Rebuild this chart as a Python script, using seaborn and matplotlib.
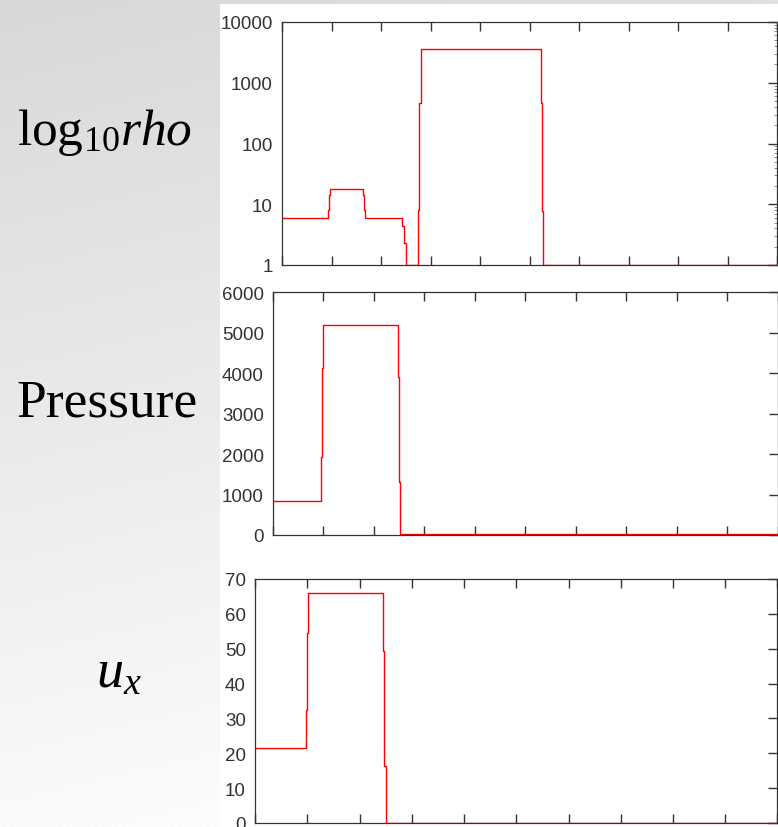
import matplotlib
matplotlib.use("Agg")
import matplotlib.pyplot as plt
import seaborn as sns
import numpy as np

# Step profiles: each level holds from its x up to the next x (steps-post)
rho_x = [0.0, 0.93, 0.95, 0.97, 1.64, 1.66, 1.68, 2.43, 2.46, 2.50, 2.75, 2.77, 2.80, 5.22, 5.24, 5.26, 10.0]
rho_y = [6.0, 8.0, 14.0, 18.0, 14.0, 8.0, 6.0, 4.4, 2.3, 1.0, 8.0, 470.0, 3600.0, 460.0, 7.6, 1.0, 1.0]

p_x = [0.0, 0.96, 0.98, 1.00, 2.48, 2.50, 2.52, 10.0]
p_y = [850.0, 1920.0, 4120.0, 5200.0, 3900.0, 1300.0, 25.0, 25.0]

u_x = [0.0, 0.97, 0.99, 1.01, 2.45, 2.47, 2.50, 10.0]
u_y = [21.5, 32.5, 54.5, 66.0, 49.4, 16.4, 0.0, 0.0]

row_labels = [r"$\mathrm{log}_{10}\mathit{rho}$", "Pressure", r"$\mathit{u}_{\mathit{x}}$"]

sns.set_theme(style="ticks")
plt.rcParams['font.family'] = ['Liberation Sans', 'DejaVu Sans']
plt.rcParams['mathtext.fontset'] = 'custom'
plt.rcParams['mathtext.rm'] = 'Liberation Serif'
plt.rcParams['mathtext.it'] = 'Liberation Serif:italic'

W, H = 778, 828
fig = plt.figure(figsize=(W / 100, H / 100), dpi=100)

# slide-like grey gradient background with a white panel on the right
yy, xx = np.mgrid[0:H, 0:W]
bg = 0.845 + 0.135 * (yy / H) + 0.03 * (xx / W)
bg = bg + 0.01 * (np.sin((xx + yy) * 2 * np.pi / 7.0) > 0.7)
bg = np.clip(bg, 0, 1)
bg[5:, 220:] = 1.0
bg_ax = fig.add_axes([0, 0, 1, 1], zorder=-10)
bg_ax.imshow(np.dstack([bg, bg, bg]), aspect='auto', interpolation='nearest')
bg_ax.axis('off')


def px_axes(left, top, bottom, right=777.5):
    return fig.add_axes([left / W, (H - bottom) / H, (right - left) / W, (bottom - top) / H])


panels = [
    (px_axes(282, 23, 266), rho_x, rho_y),
    (px_axes(273, 293.3, 536), p_x, p_y),
    (px_axes(255, 580, 824), u_x, u_y),
]

for ax, xs, ys in panels:
    sns.lineplot(x=xs, y=ys, ax=ax, color='#ff0000', linewidth=1.0,
                 drawstyle='steps-post', estimator=None, sort=False)
    ax.set_xlim(0, 10)
    ax.set_xticks(np.arange(0, 11, 1))
    ax.tick_params(axis='x', direction='in', top=True, bottom=True,
                   labelbottom=False, length=6.5, width=1.0, color='#333333')
    ax.tick_params(axis='y', direction='in', left=False, right=True,
                   labelleft=True, length=6.5, width=1.0, color='#333333',
                   labelsize=13.5, labelcolor='#333333', pad=6.5)
    for s in ax.spines.values():
        s.set_color('#333333')
        s.set_linewidth(0.9)
    ax.set_facecolor('white')

ax1 = panels[0][0]
ax1.set_yscale('log')
ax1.set_ylim(1, 10000)
ax1.set_yticks([1, 10, 100, 1000, 10000])
ax1.set_yticklabels(['1', '10', '100', '1000', '10000'])
ax1.yaxis.set_minor_locator(matplotlib.ticker.LogLocator(base=10, subs=np.arange(2, 10)))
ax1.yaxis.set_minor_formatter(matplotlib.ticker.NullFormatter())
ax1.tick_params(axis='y', which='minor', direction='in', left=False, right=True,
                length=2.5, width=0.6, color='#777777')

ax2 = panels[1][0]
ax2.set_ylim(0, 6000)
ax2.set_yticks(np.arange(0, 6001, 1000))

ax3 = panels[2][0]
ax3.set_ylim(0, 70)
ax3.set_yticks(np.arange(0, 71, 10))

# row labels on the grey area
fig.text(17 / W, (H - 145) / H, row_labels[0], fontsize=37, ha='left', va='baseline', color='black')
fig.text(16 / W, (H - 417) / H, row_labels[1], fontsize=38.5, ha='left', va='baseline',
         family='Liberation Serif', color='black')
fig.text(96 / W, (H - 688) / H, row_labels[2], fontsize=39, ha='left', va='baseline', color='black')

plt.savefig('out.png', dpi=100)
plt.close()
